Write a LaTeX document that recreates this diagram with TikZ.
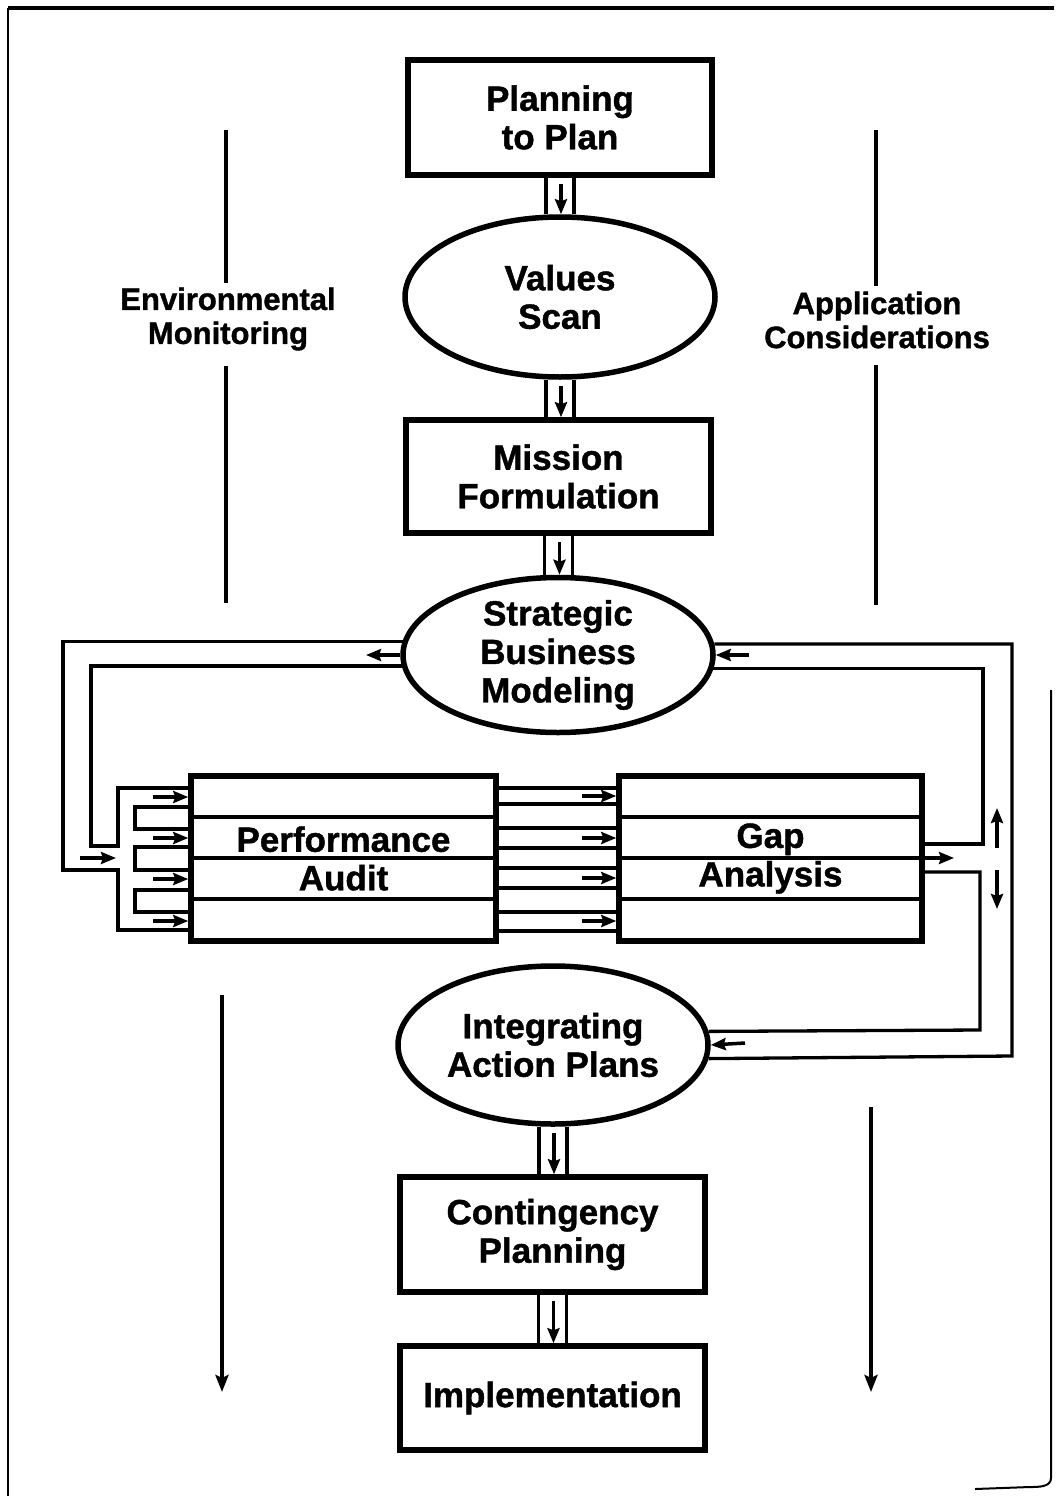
\documentclass[tikz,border=0pt]{standalone}
\usepackage{fontspec}
\setmainfont{Liberation Sans}[BoldFeatures={FakeBold=1.2}]
\usetikzlibrary{shapes.geometric,arrows.meta,calc}
\begin{document}
\begin{tikzpicture}[x=1pt,y=-1pt,
  mainfont/.style={font=\fontsize{35}{38.5}\selectfont\bfseries},
  stepbox/.style={draw,line width=5.5pt,rectangle,inner sep=0pt,align=center,mainfont},
  stepoval/.style={draw,line width=5.5pt,ellipse,inner xsep=0pt,inner ysep=-22pt,align=center,mainfont},
  sidelabel/.style={align=center,font=\fontsize{31}{34}\selectfont\bfseries},
  pipe/.style={line width=3.3pt},
  flow/.style={line width=3.5pt,-{Stealth[length=15pt,width=12pt,inset=2pt]}},
  sideline/.style={line width=3.8pt},
  sideflow/.style={line width=3.8pt,-{Stealth[length=17pt,width=13pt,inset=3pt]}},
]
\useasboundingbox (0,0) rectangle (1058,1496);

% outer frame
\draw[line width=3.5pt] (8,8) -- (1054,8);
\draw[line width=2pt] (8,8) -- (8,1496);
\draw[line width=2pt] (1051,690) -- (1051,1478) to[out=270,in=0] (1030,1487) -- (975,1489);

% main sequence
\node[stepbox,minimum width=304pt,minimum height=115pt] (plan) at (560,117.5) {Planning\\to Plan};
\node[stepoval,minimum width=310pt,minimum height=160pt] (vals) at (560,297) {Values\\Scan};
\node[stepbox,minimum width=305pt,minimum height=113pt] (miss) at (558.5,476.5) {Mission\\Formulation};
\node[stepoval,minimum width=310pt,minimum height=155pt] (sbm) at (558,655) {Strategic\\Business\\Modeling};
\node[stepbox,minimum width=305pt,minimum height=165pt] (pa) at (343.5,858.5) {Performance\\Audit};
\node[stepbox,minimum width=303pt,minimum height=165pt] (ga) at (770.5,858.5) {Gap\\Analysis};
\node[stepoval,minimum width=310pt,minimum height=158pt] (iap) at (553,1045) {Integrating\\Action Plans};
\node[stepbox,minimum width=305pt,minimum height=115pt] (cont) at (552.5,1234.5) {Contingency\\Planning};
\node[stepbox,minimum width=305pt,minimum height=104pt] (impl) at (552.5,1398) {Implementation};

% side labels
\node[sidelabel] (env) at (228,319) {Environmental\\Monitoring};
\node[sidelabel] (app) at (877,320) {Application\\Considerations};

% side guide lines
\coordinate (envA) at (226,130);  \coordinate (envB) at (226,283);
\coordinate (envC) at (226,366);  \coordinate (envD) at (226,603);
\coordinate (envE) at (222,995);  \coordinate (envF) at (222,1392);
\coordinate (appA) at (876,130);  \coordinate (appB) at (876,286);
\coordinate (appC) at (876,365);  \coordinate (appD) at (876,605);
\coordinate (appE) at (871,1107); \coordinate (appF) at (871,1392);
\draw[sideline] (envA) -- (envB);
\draw[sideline] (envC) -- (envD);
\draw[sideflow] (envE) -- (envF);
\draw[sideline] (appA) -- (appB);
\draw[sideline] (appC) -- (appD);
\draw[sideflow] (appE) -- (appF);

% double-walled links with a downward arrow
\foreach \u/\v in {plan/vals, vals/miss, miss/sbm, iap/cont, cont/impl} {
  \coordinate (pl) at ($(\u.south)+(-14,0)$);
  \coordinate (pr) at ($(\u.south)+(14,0)$);
  \coordinate (pm) at ($(\u.south)+(1,6)$);
  \draw[pipe] (pl) -- (pl |- \v.north);
  \draw[pipe] (pr) -- (pr |- \v.north);
  \draw[flow] (pm) -- (pm |- \v.north);
}

% row dividers of the audit and gap boxes
\foreach \y in {817,858,899} {
  \coordinate (ry) at (0,\y);
  \draw[pipe] (pa.west |- ry) -- (pa.east |- ry);
  \draw[pipe] (ga.west |- ry) -- (ga.east |- ry);
}

% four channels from audit to gap analysis
\foreach \a/\b/\m in {788/804/796, 828/848/838, 868/888/878, 912/931/921} {
  \coordinate (ca) at (0,\a); \coordinate (cb) at (0,\b);
  \coordinate (cm) at (582,\m);
  \draw[pipe] (pa.east |- ca) -- (ga.west |- ca);
  \draw[pipe] (pa.east |- cb) -- (ga.west |- cb);
  \draw[flow] (cm) -- (ga.west |- cm);
}

% feedback loop from modeling into the audit manifold
\coordinate (lo) at (63,870);  \coordinate (lob) at (118,870);
\coordinate (li) at (91,846);  \coordinate (lib) at (118,846);
\coordinate (mbot) at (0,930); \coordinate (mtop) at (0,788);
\draw[pipe] (sbm.175.5) -| (lo) -- (lob) |- (pa.west |- mbot);
\draw[pipe] (sbm.184.86) -| (li) -- (lib) |- (pa.west |- mtop);
\foreach \a/\b in {807/829, 847/870, 890/912} {
  \coordinate (ia) at (135,\a); \coordinate (ib) at (135,\b);
  \draw[pipe] (pa.west |- ia) -- (ia) -- (ib) -- (pa.west |- ib);
}
\foreach \m in {797,838,879,921} {
  \coordinate (am) at (153,\m);
  \draw[flow] (am) -- (pa.west |- am);
}
\coordinate (inA) at (80,858); \coordinate (inB) at (116,858);
\draw[flow] (inA) -- (inB);
\coordinate (sbmL) at (366,655);
\draw[flow] (sbm.west) -- (sbmL);

% right-hand loops
\coordinate (ro) at (1012,1056);
\coordinate (ru) at (983,844);
\coordinate (rd) at (980,1030);
\coordinate (y844) at (0,844); \coordinate (y872) at (0,872);
\draw[pipe] (sbm.4.48) -| (ro) -- (iap.355.9);
\draw[pipe] (sbm.355.14) -| (ru) -- (ga.east |- y844);
\draw[pipe] (ga.east |- y872) -| (rd) -- (iap.5.63);
\coordinate (gaOut) at (954,858);
\draw[flow] (ga.east |- gaOut) -- (gaOut);
\coordinate (upA) at (997,848); \coordinate (upB) at (997,808);
\coordinate (dnA) at (997,870); \coordinate (dnB) at (997,909);
\draw[flow] (upA) -- (upB);
\draw[flow] (dnA) -- (dnB);
\coordinate (sbmR) at (749,655);
\draw[flow] (sbmR) -- (sbm.east);
\coordinate (iapR) at (745,1043);
\draw[flow] (iapR) -- (iap.0.74);
\end{tikzpicture}
\end{document}
